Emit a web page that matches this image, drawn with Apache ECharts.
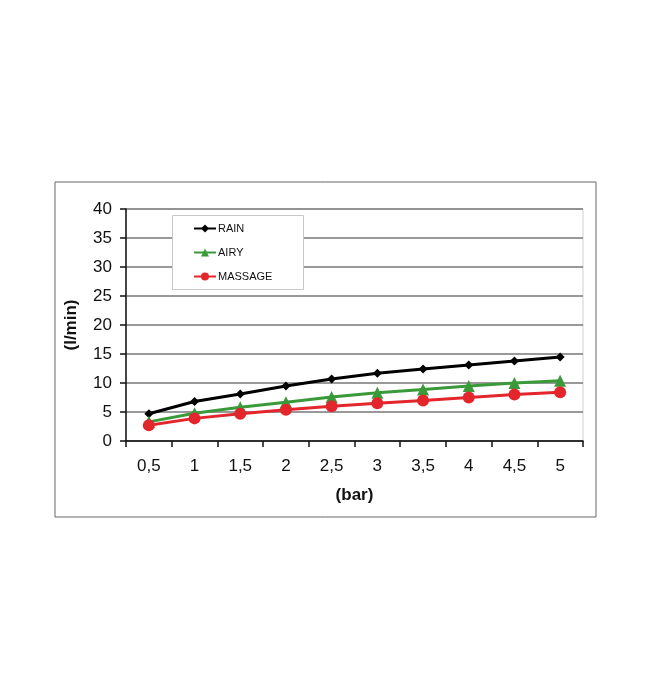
<!DOCTYPE html>
<html>
<head>
<meta charset="utf-8">
<script src="https://cdn.jsdelivr.net/npm/echarts@6/dist/echarts.min.js"></script>
<style>
html,body{margin:0;padding:0;background:#fff;}
#chart{width:650px;height:699px;}
</style>
</head>
<body>
<div id="chart"></div>
<script>
var categories = ['0,5','1','1,5','2','2,5','3','3,5','4','4,5','5'];
var rain    = [4.7, 6.8, 8.1, 9.5, 10.7, 11.7, 12.4, 13.1, 13.8, 14.5];
var airy    = [3.3, 4.8, 5.8, 6.7, 7.6, 8.3, 8.9, 9.5, 10.0, 10.4];
var massage = [2.7, 3.9, 4.7, 5.4, 6.0, 6.5, 7.0, 7.5, 8.0, 8.4];
var yTicks = {min: 0, max: 40, interval: 5};

var FONT = "'Liberation Sans', Arial, sans-serif";
var chart = echarts.init(document.getElementById('chart'), null, {renderer: 'canvas'});
chart.setOption({
  animation: false,
  backgroundColor: '#fff',
  graphic: [
    {type: 'rect', z: 0, shape: {x: 55, y: 182, width: 541, height: 335},
     style: {fill: 'none', stroke: '#666', lineWidth: 1}},
    {type: 'rect', z: 3, shape: {x: 172.5, y: 215.5, width: 131, height: 74},
     style: {fill: '#fff', stroke: '#c8c8c8', lineWidth: 1}}
  ],
  grid: {left: 126, right: 67, top: 209, bottom: 258, show: true,
         borderColor: '#d0d0d0', borderWidth: 1, backgroundColor: 'transparent'},
  legend: {
    orient: 'vertical', left: 172, top: 215, z: 4,
    padding: [8, 20, 7, 21], itemGap: 13, itemWidth: 22, itemHeight: 10,
    textStyle: {fontFamily: FONT, fontSize: 11, color: '#111', padding: [0,0,0,-3]},
    data: ['RAIN', 'AIRY', 'MASSAGE']
  },
  xAxis: {
    type: 'category', data: categories, boundaryGap: true,
    name: '(bar)', nameLocation: 'middle', nameGap: 46,
    nameTextStyle: {fontFamily: FONT, fontSize: 17, fontWeight: 'bold', color: '#111'},
    axisLine: {lineStyle: {color: '#111', width: 1.5}},
    axisTick: {show: true, length: 6, lineStyle: {color: '#111', width: 1.5}},
    axisLabel: {fontFamily: FONT, fontSize: 17, color: '#111', margin: 17},
    splitLine: {show: false}
  },
  yAxis: {
    type: 'value', min: yTicks.min, max: yTicks.max, interval: yTicks.interval,
    name: '(l/min)', nameLocation: 'middle', nameGap: 46, nameRotate: 90,
    nameTextStyle: {fontFamily: FONT, fontSize: 17, fontWeight: 'bold', color: '#111'},
    axisLine: {show: true, lineStyle: {color: '#111', width: 1.5}},
    axisTick: {show: true, length: 6, lineStyle: {color: '#111', width: 1.5}},
    axisLabel: {fontFamily: FONT, fontSize: 17, color: '#111', margin: 14},
    splitLine: {show: true, lineStyle: {color: '#777', width: 1.5}}
  },
  series: [
    {name: 'RAIN', type: 'line', data: rain, symbol: 'diamond', symbolSize: 9,
     itemStyle: {color: '#000'}, lineStyle: {color: '#000', width: 3}},
    {name: 'AIRY', type: 'line', data: airy, symbol: 'triangle', symbolSize: 12,
     itemStyle: {color: '#3a9a3a'}, lineStyle: {color: '#3a9a3a', width: 3}},
    {name: 'MASSAGE', type: 'line', data: massage, symbol: 'circle', symbolSize: 12,
     itemStyle: {color: '#e3262b'}, lineStyle: {color: '#e3262b', width: 3}}
  ]
});
</script>
</body>
</html>
